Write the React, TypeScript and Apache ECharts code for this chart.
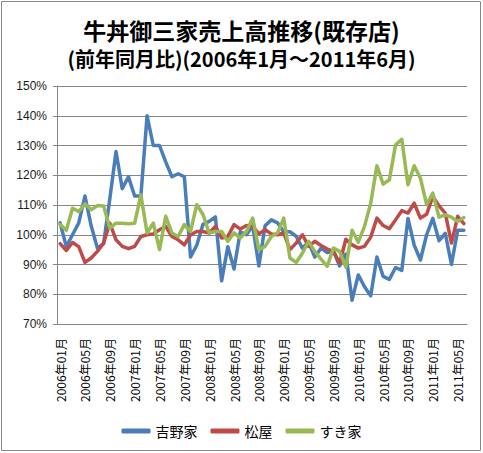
import { useEffect, useRef } from 'react';
import * as echarts from 'echarts';

const FONT_JP = '"Noto Sans CJK JP", sans-serif';

// 2006年01月 〜 2011年06月
const months: string[] = [];
for (let y = 2006; y <= 2011; y++) {
  for (let m = 1; m <= 12; m++) {
    if (y === 2011 && m > 6) break;
    months.push(`${y}年${String(m).padStart(2, '0')}月`);
  }
}

const yoshinoya = [
  104, 96, 100, 104, 113, 103, 95.5, 97, 112, 128, 115.5, 119.5, 113, 113, 140, 130, 130, 124.5, 119.5, 120.5,
  119.5, 92.5, 96.5, 103.5, 104.5, 106, 84.5, 96, 88.5, 101, 100, 103, 89.5, 103, 105, 104, 101, 101, 99.5, 95.5,
  97.5, 92.5, 95.5, 94, 94.5, 89.5, 93.5, 78, 86.5, 82.5, 79.5, 92.5, 86, 85, 89, 88, 105.5, 96.5, 91.5, 100,
  105.5, 98, 100.5, 90, 101.5, 101.5,
];

const matsuya = [
  97, 94.7, 97.4, 96, 90.7, 92.2, 94.4, 97.2, 103.9, 98.3, 96.1, 95.3, 96.1, 99.4, 100, 100.3, 101.7, 102.8, 99.4,
  98.3, 96.6, 100, 101.1, 101.1, 100.6, 102.8, 98.9, 99.4, 103.4, 101.9, 103.1, 102.8, 100.3, 101.7, 100.3, 100,
  100.6, 95, 97.2, 100, 96.1, 97.8, 96.4, 95.2, 94.4, 90.5, 98.5, 96.6, 95.5, 96.1, 99.2, 105.6, 103.1, 102, 105,
  108.1, 107.3, 110.6, 105.6, 106.9, 112.9, 109.7, 107.3, 97.2, 106.2, 103.7,
];

const sukiya = [
  103.4, 101.5, 108.9, 107.8, 110.4, 108.4, 109.8, 109.7, 102.2, 103.9, 103.9, 103.7, 103.9, 113.4, 100.6, 103.9,
  95, 106.2, 100.6, 99.4, 103.4, 101.1, 110.1, 106.8, 100.6, 101.1, 101.1, 97.8, 100.6, 98.9, 101.1, 105.6, 95,
  96.1, 99.4, 100.6, 105.6, 92.2, 90.7, 93.8, 97.8, 94.4, 91.8, 89.4, 95.5, 94.4, 89.1, 101.5, 97.5, 102.8, 110.6,
  123.2, 117, 118.5, 130.2, 132.1, 116.8, 123.2, 119, 110.1, 114, 105.9, 106.7, 105.9, 104.5, 105.8,
];

const seriesNames = ['吉野家', '松屋', 'すき家'];
const seriesColors = ['#4A7EBB', '#BE4B48', '#98B954'];

const App = () => {
  const divRef = useRef<HTMLDivElement | null>(null);

  useEffect(() => {
    if (!divRef.current) return;
    const chart = echarts.init(divRef.current, null, { renderer: 'svg' });

    const values = [yoshinoya, matsuya, sukiya];

    chart.setOption({
      animation: false,
      backgroundColor: '#fff',
      title: [
        {
          text: '牛丼御三家売上高推移(既存店)',
          left: 'center',
          top: 13,
          textStyle: { fontFamily: FONT_JP, fontSize: 23, fontWeight: 'bold', color: '#000' },
        },
        {
          text: '(前年同月比)(2006年1月～2011年6月)',
          left: 'center',
          top: 43,
          textStyle: { fontFamily: FONT_JP, fontSize: 20, fontWeight: 'bold', color: '#000' },
        },
      ],
      graphic: [
        {
          type: 'rect',
          shape: { x: 1.5, y: 1.5, width: 479, height: 449 },
          style: { fill: 'none', stroke: '#888', lineWidth: 1 },
          silent: true,
        },
      ],
      legend: {
        top: 419,
        left: 'center',
        icon: 'roundRect',
        itemWidth: 29,
        itemHeight: 5,
        itemGap: 13,
        data: seriesNames,
        textStyle: { fontFamily: FONT_JP, fontSize: 14, color: '#000' },
      },
      grid: { left: 57, right: 16, top: 86, bottom: 129, containLabel: false },
      xAxis: {
        type: 'category',
        data: months,
        boundaryGap: true,
        axisLine: { lineStyle: { color: '#868686', width: 1 } },
        axisTick: { interval: 3, length: 4, lineStyle: { color: '#868686' } },
        axisLabel: {
          interval: 3,
          rotate: 90,
          margin: 14,
          fontFamily: FONT_JP,
          fontSize: 12,
          color: '#000',
        },
      },
      yAxis: {
        type: 'value',
        min: 70,
        max: 150,
        interval: 10,
        axisLine: { show: true, lineStyle: { color: '#868686', width: 1 } },
        axisTick: { show: true, length: 4, lineStyle: { color: '#868686' } },
        axisLabel: {
          formatter: '{value}%',
          margin: 10,
          fontFamily: '"Liberation Sans", Arial, sans-serif',
          fontSize: 12,
          color: '#1a1a1a',
        },
        splitLine: { lineStyle: { color: '#868686', width: 1 } },
      },
      series: seriesNames.map((name, i) => ({
        name,
        type: 'line',
        data: values[i],
        symbol: 'none',
        color: seriesColors[i],
        lineStyle: { width: 3.5, color: seriesColors[i], join: 'round', cap: 'round' },
      })),
    });

    return () => chart.dispose();
  }, []);

  return (
    <div
      ref={divRef}
      style={{ position: 'fixed', left: 0, top: 0, width: 483, height: 453 }}
    />
  );
};

export default App;
